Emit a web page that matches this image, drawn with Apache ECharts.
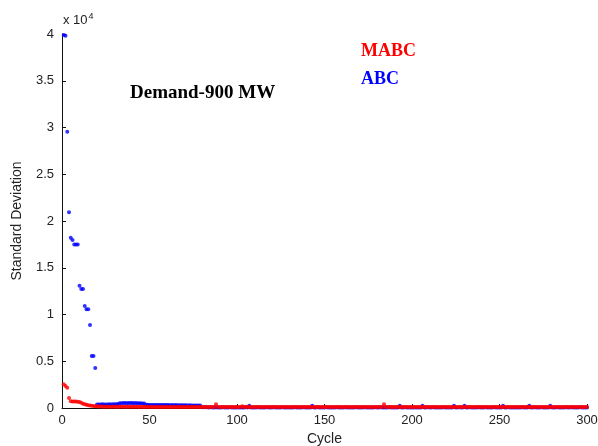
<!DOCTYPE html>
<html>
<head>
<meta charset="utf-8">
<script src="https://cdn.jsdelivr.net/npm/echarts@6/dist/echarts.min.js"></script>
<style>
  html, body { margin: 0; padding: 0; background: #fff; }
  #chart { width: 598px; height: 446px; }
</style>
</head>
<body>
<div id="chart"></div>
<script>
// standard deviation per cycle, cycle 1..300
const mabc = [
  2530, 2350, 2170, 1070, 720, 700, 690, 700, 680, 650,
  550, 450, 400, 350, 300, 280, 250, 220, 200, 180,
  160, 150, 150, 140, 150, 140, 130, 140, 150, 140,
  140, 130, 140, 150, 140, 130, 140, 140, 130, 140,
  130, 140, 130, 120, 130, 140, 120, 130, 120, 130,
  120, 110, 120, 110, 120, 110, 100, 110, 120, 110,
  110, 100, 110, 100, 110, 100, 110, 100, 100, 110,
  100, 110, 100, 100, 110, 100, 100, 110, 100, 100,
  100, 110, 100, 100, 100, 110, 100, 400, 100, 100,
  100, 110, 100, 100, 100, 110, 100, 100, 100, 110,
  100, 100, 200, 100, 100, 110, 100, 100, 100, 100,
  100, 100, 110, 100, 100, 100, 110, 100, 100, 100,
  110, 100, 100, 100, 110, 100, 100, 100, 100, 110,
  100, 100, 100, 110, 100, 100, 100, 110, 100, 100,
  100, 110, 100, 100, 100, 100, 110, 100, 100, 100,
  110, 100, 100, 100, 100, 110, 100, 100, 100, 110,
  100, 100, 100, 110, 100, 100, 100, 100, 110, 100,
  100, 100, 110, 100, 100, 100, 100, 110, 100, 100,
  100, 100, 110, 400, 100, 100, 100, 110, 100, 100,
  100, 110, 100, 100, 100, 100, 110, 100, 100, 100,
  110, 100, 100, 100, 100, 110, 100, 100, 100, 100,
  100, 110, 100, 100, 100, 100, 110, 100, 100, 100,
  110, 100, 100, 100, 100, 100, 110, 100, 100, 100,
  100, 110, 100, 100, 100, 100, 110, 100, 100, 100,
  110, 100, 100, 100, 100, 110, 100, 100, 100, 100,
  100, 100, 110, 100, 100, 100, 100, 110, 100, 100,
  100, 100, 100, 110, 100, 100, 100, 100, 110, 100,
  100, 100, 110, 100, 100, 100, 100, 110, 100, 100,
  100, 110, 100, 100, 100, 100, 110, 100, 100, 100,
  110, 100, 100, 100, 100, 110, 100, 100, 100, 100
];

const abc = [
  39900, 39800, 29550, 20930, 18210, 17970, 17500, 17500, 17500, 13080,
  12730, 12730, 10910, 10560, 10560, 8880, 5560, 5560, 4280, 380,
  370, 380, 390, 380, 370, 380, 390, 380, 390, 400,
  410, 420, 500, 520, 530, 540, 520, 530, 540, 530,
  520, 530, 520, 510, 500, 490, 470, 350, 340, 330,
  330, 320, 330, 320, 330, 320, 310, 320, 310, 320,
  310, 300, 310, 300, 310, 300, 300, 290, 300, 290,
  290, 280, 290, 280, 280, 270, 280, 270, 260, 80,
  80, 70, 70, 60, 70, 60, 60, 70, 60, 60,
  60, 70, 60, 60, 60, 70, 60, 60, 60, 60,
  60, 60, 60, 60, 70, 60, 250, 60, 60, 60,
  60, 70, 60, 60, 60, 60, 70, 60, 60, 60,
  70, 60, 60, 60, 60, 70, 60, 60, 60, 60,
  60, 60, 70, 60, 60, 60, 60, 70, 60, 60,
  60, 60, 250, 60, 60, 70, 60, 60, 60, 60,
  70, 60, 60, 60, 60, 60, 70, 60, 60, 60,
  60, 70, 60, 60, 60, 60, 60, 70, 60, 60,
  60, 60, 70, 60, 60, 60, 60, 60, 70, 60,
  60, 70, 60, 60, 60, 60, 70, 60, 60, 60,
  60, 60, 250, 60, 60, 70, 60, 60, 60, 60,
  60, 60, 60, 60, 60, 250, 60, 60, 70, 60,
  60, 70, 60, 60, 60, 60, 60, 70, 60, 60,
  60, 60, 60, 250, 60, 60, 70, 60, 60, 250,
  60, 60, 70, 60, 60, 60, 60, 70, 60, 60,
  60, 70, 60, 60, 60, 60, 70, 60, 60, 60,
  60, 250, 60, 60, 70, 60, 60, 60, 60, 60,
  60, 60, 70, 60, 60, 60, 250, 60, 60, 70,
  60, 60, 60, 70, 60, 60, 60, 60, 250, 60,
  60, 60, 70, 60, 60, 60, 60, 70, 60, 60,
  70, 60, 60, 60, 60, 70, 60, 60, 60, 60
];

const cycles = abc.map((v, i) => i + 1);

const chart = echarts.init(document.getElementById('chart'));

const axisFont = { color: '#222', fontFamily: 'Liberation Sans', fontSize: 13 };

chart.setOption({
  backgroundColor: '#fff',
  animation: false,
  grid: { left: 62, right: 11, top: 34, bottom: 38, outerBoundsMode: 'none', containLabel: false },
  xAxis: {
    type: 'value',
    min: 0, max: 300, interval: 50,
    name: 'Cycle',
    nameLocation: 'middle',
    nameGap: 22,
    nameTextStyle: { color: '#222', fontFamily: 'Liberation Sans', fontSize: 14 },
    axisLine: { lineStyle: { color: '#111', width: 1 } },
    axisTick: { inside: true, length: 4, lineStyle: { color: '#111' } },
    axisLabel: Object.assign({ margin: 6 }, axisFont),
    splitLine: { show: false }
  },
  yAxis: {
    type: 'value',
    min: 0, max: 40000, interval: 5000,
    name: 'Standard Deviation',
    nameLocation: 'middle',
    nameGap: 38,
    nameTextStyle: { color: '#222', fontFamily: 'Liberation Sans', fontSize: 14 },
    axisLine: { show: true, lineStyle: { color: '#111', width: 1 } },
    axisTick: { show: true, inside: true, length: 4, lineStyle: { color: '#111' } },
    axisLabel: Object.assign({ margin: 8, formatter: v => String(v / 10000) }, axisFont),
    splitLine: { show: false }
  },
  series: [
    {
      name: 'ABC',
      type: 'scatter',
      symbolSize: 4,
      itemStyle: { color: '#0000ff' },
      data: abc.map((v, i) => [cycles[i], v])
    },
    {
      name: 'MABC',
      type: 'scatter',
      symbolSize: 4,
      itemStyle: { color: '#ff0000' },
      data: mabc.map((v, i) => [cycles[i], v])
    }
  ],
  graphic: [
    {
      type: 'text', left: 63, top: 12,
      style: {
        text: '{a|x 10}{b|4}',
        rich: {
          a: { fontFamily: 'Liberation Sans', fontSize: 13, fill: '#222' },
          b: { fontFamily: 'Liberation Sans', fontSize: 9, fill: '#222', verticalAlign: 'top', padding: [0, 0, 8, 1] }
        }
      }
    },
    {
      type: 'text', left: 130, top: 84,
      style: { text: 'Demand-900 MW', fill: '#000', font: 'bold 19px "Liberation Serif"' }
    },
    {
      type: 'text', left: 361, top: 42,
      style: { text: 'MABC', fill: '#ff0000', font: 'bold 18px "Liberation Serif"' }
    },
    {
      type: 'text', left: 361, top: 70,
      style: { text: 'ABC', fill: '#0000ff', font: 'bold 18px "Liberation Serif"' }
    }
  ]
});
</script>
</body>
</html>
